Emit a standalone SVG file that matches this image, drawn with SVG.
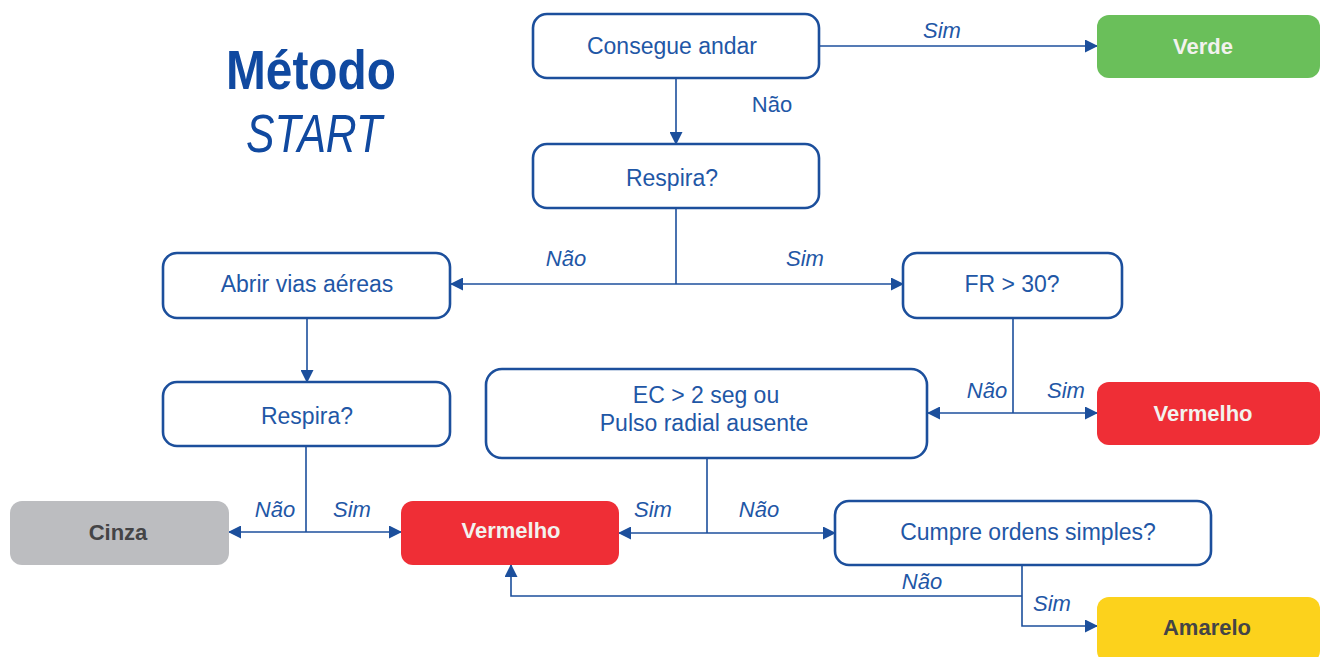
<svg xmlns="http://www.w3.org/2000/svg" width="1324" height="657" viewBox="0 0 1324 657">
<style>
.box{fill:#fff;stroke:#1c4f9c;stroke-width:2.6}
.t{font-family:"Liberation Sans",Arial,sans-serif;font-size:23px;fill:#1f57a6;text-anchor:middle;dominant-baseline:central}
.lbl{font-family:"Liberation Sans",Arial,sans-serif;font-size:22px;fill:#1f57a6;text-anchor:middle;font-style:italic}
.lbln{font-family:"Liberation Sans",Arial,sans-serif;font-size:22px;fill:#1f57a6;text-anchor:middle}
.bt{font-family:"Liberation Sans",Arial,sans-serif;font-size:22px;font-weight:bold;text-anchor:middle;dominant-baseline:central}
.c{fill:none;stroke:#1c4f9c;stroke-width:1.6}
</style>
<defs>
<marker id="ah" markerUnits="userSpaceOnUse" markerWidth="13" markerHeight="13" refX="12" refY="6.5" orient="auto">
<path d="M0,0 L13,6.5 L0,13 z" fill="#1c4f9c"/>
</marker>
</defs>
<rect width="1324" height="657" fill="#fff"/>
<g id="title">
<text x="226" y="89" font-family="'Liberation Sans',Arial,sans-serif" font-size="56" font-weight="bold" fill="#1049a0" textLength="170" lengthAdjust="spacingAndGlyphs">Método</text>
<text x="246" y="152" font-family="'Liberation Sans',Arial,sans-serif" font-size="54" font-style="italic" fill="#1049a0" textLength="136" lengthAdjust="spacingAndGlyphs">START</text>
</g>
<g id="connectors">
<path class="c" d="M819,46 H1097" marker-end="url(#ah)"/>
<path class="c" d="M676,78 V144" marker-end="url(#ah)"/>
<path class="c" d="M676,208 V284"/>
<path class="c" d="M676,284 H451" marker-end="url(#ah)"/>
<path class="c" d="M676,284 H903" marker-end="url(#ah)"/>
<path class="c" d="M307,318 V382" marker-end="url(#ah)"/>
<path class="c" d="M1013,318 V413"/>
<path class="c" d="M1013,413 H928" marker-end="url(#ah)"/>
<path class="c" d="M1013,413 H1097" marker-end="url(#ah)"/>
<path class="c" d="M306,446 V532"/>
<path class="c" d="M306,532 H229" marker-end="url(#ah)"/>
<path class="c" d="M306,532 H401" marker-end="url(#ah)"/>
<path class="c" d="M707,458 V533"/>
<path class="c" d="M707,533 H619" marker-end="url(#ah)"/>
<path class="c" d="M707,533 H835" marker-end="url(#ah)"/>
<path class="c" d="M1022,565 V626 H1097" marker-end="url(#ah)"/>
<path class="c" d="M1022,596 H511 V565" marker-end="url(#ah)"/>
<text class="lbl" x="942" y="38">Sim</text>
<text class="lbln" x="772" y="112">Não</text>
<text class="lbl" x="566" y="266">Não</text>
<text class="lbl" x="805" y="266">Sim</text>
<text class="lbl" x="987" y="398">Não</text>
<text class="lbl" x="1066" y="398">Sim</text>
<text class="lbl" x="275" y="517">Não</text>
<text class="lbl" x="352" y="517">Sim</text>
<text class="lbl" x="653" y="517">Sim</text>
<text class="lbl" x="759" y="517">Não</text>
<text class="lbl" x="922" y="589">Não</text>
<text class="lbl" x="1052" y="611">Sim</text>
</g>
<g id="n-consegue"><rect class="box" x="533" y="14" width="286" height="64" rx="14"/><text class="t" x="672" y="46">Consegue andar</text></g>
<g id="n-verde"><rect x="1097" y="15" width="223" height="63" rx="12" fill="#6abf5a"/><text class="bt" x="1203" y="46" fill="#f2f2ee">Verde</text></g>
<g id="n-respira1"><rect class="box" x="533" y="144" width="286" height="64" rx="14"/><text class="t" x="672" y="178">Respira?</text></g>
<g id="n-abrir"><rect class="box" x="163" y="253" width="287" height="65" rx="14"/><text class="t" x="307" y="284">Abrir vias aéreas</text></g>
<g id="n-fr"><rect class="box" x="903" y="253" width="219" height="65" rx="14"/><text class="t" x="1012" y="284">FR &gt; 30?</text></g>
<g id="n-respira2"><rect class="box" x="163" y="382" width="287" height="64" rx="14"/><text class="t" x="307" y="416">Respira?</text></g>
<g id="n-ec"><rect class="box" x="486" y="369" width="441" height="89" rx="16"/><text class="t" x="706" y="395">EC &gt; 2 seg ou</text><text class="t" x="704" y="423">Pulso radial ausente</text></g>
<g id="n-vermelho1"><rect x="1097" y="382" width="223" height="63" rx="12" fill="#ef2e36"/><text class="bt" x="1203" y="413" fill="#f2f2ee">Vermelho</text></g>
<g id="n-cinza"><rect x="10" y="501" width="219" height="64" rx="12" fill="#bcbdc0"/><text class="bt" x="118" y="532" fill="#444446">Cinza</text></g>
<g id="n-vermelho2"><rect x="401" y="501" width="218" height="64" rx="12" fill="#ef2e36"/><text class="bt" x="511" y="530" fill="#f2f2ee">Vermelho</text></g>
<g id="n-cumpre"><rect class="box" x="835" y="501" width="376" height="64" rx="14"/><text class="t" x="1028" y="532">Cumpre ordens simples?</text></g>
<g id="n-amarelo"><rect x="1097" y="597" width="223" height="66" rx="12" fill="#fcd21c"/><text class="bt" x="1207" y="627" fill="#444446">Amarelo</text></g>
</svg>
